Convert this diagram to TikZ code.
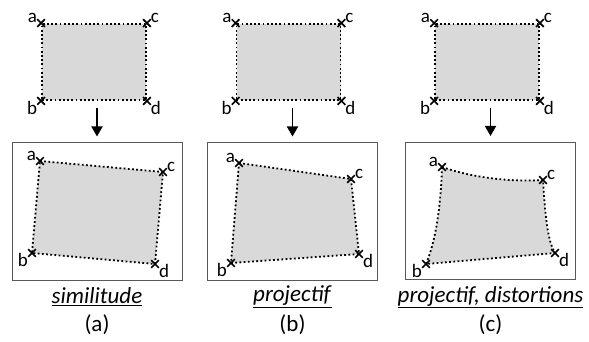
\documentclass[tikz,border=0pt]{standalone}
\usepackage{fontspec}
\setmainfont{Carlito}
\usetikzlibrary{arrows.meta,positioning,shapes.misc}
\definecolor{shade}{HTML}{D9D9D9}
\definecolor{frameline}{HTML}{595959}

\begin{document}
\begin{tikzpicture}[x=1pt, y=-1pt, font=\fontsize{19}{22}\selectfont,
  corner/.style={cross out, draw, line width=1.7pt, minimum size=6pt, inner sep=0pt, label distance=-1.5pt},
  dots/.style={fill=shade, draw, line width=1.8pt, dash pattern=on 1.8pt off 2.4pt},
  rect/.style={dots, minimum width=104pt, minimum height=76pt, inner sep=0pt},
  frame/.style={draw=frameline, line width=1pt, minimum width=170pt, minimum height=137pt, inner sep=0pt},
  arr/.style={-{Triangle[length=10pt,width=11pt]}, line width=1.8pt, shorten <=7pt, shorten >=6pt},
  caption/.style={font=\fontsize{23}{26}\selectfont, inner sep=0pt},
  la/.style={label={[inner sep=0pt, anchor=south east]left:a}},
  lc/.style={label={[inner sep=0pt, anchor=south west]right:c}},
  lb/.style={label={[inner sep=0pt, anchor=north east]left:b}},
  ld/.style={label={[inner sep=0pt, anchor=north west]right:d}}]
  \useasboundingbox (0,0) rectangle (589,342);

  % (a) similitude
  \node[rect] (r1) at (94,62) {};
  \node[frame] (f1) at (97,211.5) {};
  \draw[arr] (r1.south -| f1.north) -- (f1.north);
  \coordinate (qa1) at (40,161);
  \coordinate (qc1) at (163,172);
  \coordinate (qd1) at (155,264);
  \coordinate (qb1) at (32,253);
  \draw[dots] (qa1) -- (qc1) -- (qd1) -- (qb1) -- cycle;
  \node[corner, la] (ta1) at (r1.north west) {};
  \node[corner, lc] (tc1) at (r1.north east) {};
  \node[corner, lb] (tb1) at (r1.south west) {};
  \node[corner, ld] (td1) at (r1.south east) {};
  \node[corner, la] (a1) at (qa1) {};
  \node[corner, lc] (c1) at (qc1) {};
  \node[corner, lb] (b1) at (qb1) {};
  \node[corner, ld] (d1) at (qd1) {};
  \node[caption] (s1) at (97,297) {\underline{\textit{similitude}}};
  \node[caption] (n1) at (97,325) {(a)};

  % (b) projectif
  \node[rect] (r2) at (288.5,62) {};
  \node[frame] (f2) at (292.5,211.5) {};
  \draw[arr] (r2.south -| f2.north) -- (f2.north);
  \coordinate (qa2) at (239,163);
  \coordinate (qc2) at (351,179);
  \coordinate (qd2) at (359,254);
  \coordinate (qb2) at (231,263);
  \draw[dots] (qa2) -- (qc2) -- (qd2) -- (qb2) -- cycle;
  \node[corner, la] (ta2) at (r2.north west) {};
  \node[corner, lc] (tc2) at (r2.north east) {};
  \node[corner, lb] (tb2) at (r2.south west) {};
  \node[corner, ld] (td2) at (r2.south east) {};
  \node[corner, la] (a2) at (qa2) {};
  \node[corner, lc] (c2) at (qc2) {};
  \node[corner, lb] (b2) at (qb2) {};
  \node[corner, ld] (d2) at (qd2) {};
  \node[caption] (s2) at (292.5,297) {\underline{\textit{projectif}}};
  \node[caption] (n2) at (292.5,325) {(b)};

  % (c) projectif, distortions
  \node[rect] (r3) at (487,62) {};
  \node[frame] (f3) at (490.5,211) {};
  \draw[arr] (r3.south -| f3.north) -- (f3.north);
  \coordinate (qa3) at (442,167);
  \coordinate (qc3) at (543,180);
  \coordinate (qd3) at (555,253);
  \coordinate (qb3) at (426,264);
  \draw[dots] (qa3) .. controls (474,178) and (510,182) .. (qc3)
    .. controls (545,212) and (547,240) .. (qd3) -- (qb3)
    .. controls (437,238) and (441,200) .. cycle;
  \node[corner, la] (ta3) at (r3.north west) {};
  \node[corner, lc] (tc3) at (r3.north east) {};
  \node[corner, lb] (tb3) at (r3.south west) {};
  \node[corner, ld] (td3) at (r3.south east) {};
  \node[corner, la] (a3) at (qa3) {};
  \node[corner, lc] (c3) at (qc3) {};
  \node[corner, lb] (b3) at (qb3) {};
  \node[corner, ld] (d3) at (qd3) {};
  \node[caption] (s3) at (490.5,297) {\underline{\textit{projectif, distortions}}};
  \node[caption] (n3) at (490.5,325) {(c)};
\end{tikzpicture}
\end{document}
